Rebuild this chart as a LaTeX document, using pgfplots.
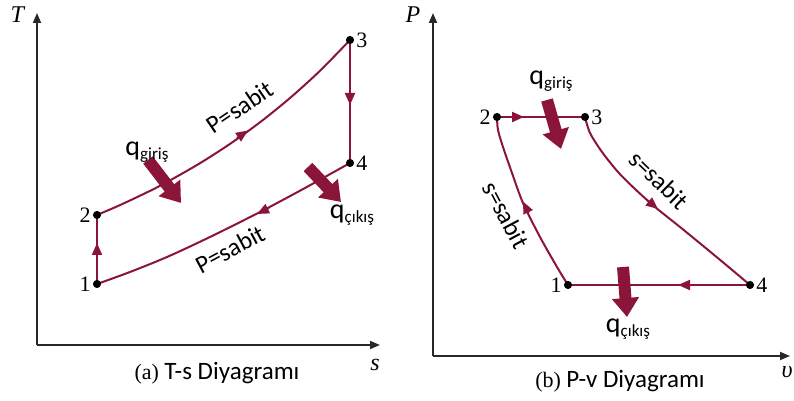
\documentclass[border=0pt]{standalone}
\usepackage{pgfplots}
\pgfplotsset{compat=1.18}
\usetikzlibrary{arrows.meta}
\usepackage{fontspec}
\setmainfont{Liberation Serif}
\newfontfamily\sansf{Carlito}
\definecolor{mar}{RGB}{139,21,56}
\definecolor{axc}{RGB}{40,40,40}
\newcommand{\qlab}[1]{{\sansf\fontsize{14}{14}\selectfont q\raisebox{-0.3ex}{\fontsize{8.5}{9}\selectfont #1}}}
\newcommand{\sablab}[1]{{\sansf\fontsize{12.5}{13}\selectfont #1}}
\newcommand{\numlab}[1]{{\fontsize{11}{12}\selectfont #1}}
\pgfplotsset{
  cyc/.style={clip=false, scale only axis, axis lines=left,
    axis line style={axc, line width=0.9pt, -{Triangle[length=5pt,width=4pt]}},
    xtick=\empty, ytick=\empty},
  curve/.style={mar, line width=1pt, no marks},
  mid/.style={mar, line width=1pt, no marks, -{Triangle[length=6pt,width=5pt]}},
  heat/.style={mar, line width=6pt, no marks, -{Triangle[length=9.5pt,width=13pt]}},
  pts/.style={only marks, mark=*, mark size=1.8pt, black, mark options={fill=black}}
}
\begin{document}
\begin{tikzpicture}
\path[use as bounding box] (0,0) rectangle (397pt,200.5pt);
% ---------------- (a) T-s ----------------
\begin{axis}[cyc, at={(18.5pt,28pt)}, anchor=south west,
  xmin=37, xmax=380, ymin=56, ymax=388, width=171.5pt, height=166pt]
\addplot[curve] coordinates {(97,117) (97,186)};
\addplot[curve, smooth] coordinates {(97,186) (120,195.9) (150,210.1) (170,220.6) (200,237.8) (230,257.1) (260,278.7) (290,303.0) (320,330.2) (350,361)};
\addplot[curve] coordinates {(350,361) (350,238)};
\addplot[curve, smooth] coordinates {(350,238) (305,213) (260,189) (210,164) (167,144) (130,129) (97,117)};
% direction arrows
\addplot[mid] coordinates {(97,146) (97,158)};
\addplot[mid] coordinates {(350,308) (350,296)};
\addplot[mid] coordinates {(237,263) (248,270.5)};
\addplot[mid] coordinates {(269,193) (257,187)};
% heat arrows
\addplot[heat] coordinates {(148,241) (181,198)};
\addplot[heat] coordinates {(308,234) (341,199)};
% state points
\addplot[pts] coordinates {(97,117) (97,186) (350,361) (350,238)};
\node[anchor=east, inner sep=1pt] at (axis cs:93,117) {\numlab{1}};
\node[anchor=east, inner sep=1pt] at (axis cs:93,186) {\numlab{2}};
\node[anchor=west, inner sep=1pt] at (axis cs:354,361) {\numlab{3}};
\node[anchor=west, inner sep=1pt] at (axis cs:354,238) {\numlab{4}};
\node[rotate=34] at (axis cs:240,294) {\sablab{P=sabit}};
\node[rotate=28] at (axis cs:230,152) {\sablab{P=sabit}};
\node at (axis cs:147,249) {\qlab{giriş}};
\node at (axis cs:352,186) {\qlab{çıkış}};
\node at (axis cs:18,386) {\fontsize{12}{12}\selectfont\textit{T}};
\node at (axis cs:375,36) {\fontsize{12}{12}\selectfont\textit{s}};
\node at (axis cs:217,28) {\fontsize{11}{12}\selectfont (a) {\sansf\fontsize{12.5}{14}\selectfont T-s Diyagramı}};
\end{axis}
% ---------------- (b) P-v ----------------
\begin{axis}[cyc, at={(216.5pt,22.5pt)}, anchor=south west,
  xmin=433, xmax=790, ymin=45, ymax=388, width=178.5pt, height=171.5pt]
\addplot[curve] coordinates {(497,284) (585,284)};
\addplot[curve, smooth] coordinates {(585,284) (590,268) (602,249) (618,229) (635,212) (655,194) (680,174) (702,156) (725,137) (750,116)};
\addplot[curve] coordinates {(750,116) (568,116)};
\addplot[curve, smooth] coordinates {(568,116) (557,134) (540,164) (523,198) (512,228) (503,254) (498,271) (497,284)};
% direction arrows
\addplot[mid] coordinates {(511,284) (524,284)};
\addplot[mid] coordinates {(647,201) (658,192)};
\addplot[mid] coordinates {(691,116) (678,116)};
\addplot[mid] coordinates {(528.5,188) (523,199.5)};
% heat arrows
\addplot[heat] coordinates {(547,301) (561,252)};
\addplot[heat] coordinates {(623,134) (627,84)};
% state points
\addplot[pts] coordinates {(568,116) (497,284) (585,284) (750,116)};
\node[anchor=east, inner sep=1pt] at (axis cs:493,284) {\numlab{2}};
\node[anchor=west, inner sep=1pt] at (axis cs:589,284) {\numlab{3}};
\node[anchor=east, inner sep=1pt] at (axis cs:564,116) {\numlab{1}};
\node[anchor=west, inner sep=1pt] at (axis cs:754,116) {\numlab{4}};
\node[rotate=-62] at (axis cs:506,186) {\sablab{s=sabit}};
\node[rotate=-44] at (axis cs:659,221) {\sablab{s=sabit}};
\node at (axis cs:551,320) {\qlab{giriş}};
\node at (axis cs:628,72) {\qlab{çıkış}};
\node at (axis cs:413,386) {\fontsize{12}{12}\selectfont\textit{P}};
\node at (axis cs:787,29) {\fontsize{12}{12}\selectfont\textit{υ}};
\node at (axis cs:620,20) {\fontsize{11}{12}\selectfont (b) {\sansf\fontsize{12.5}{14}\selectfont P-v Diyagramı}};
\end{axis}
\end{tikzpicture}
\end{document}
